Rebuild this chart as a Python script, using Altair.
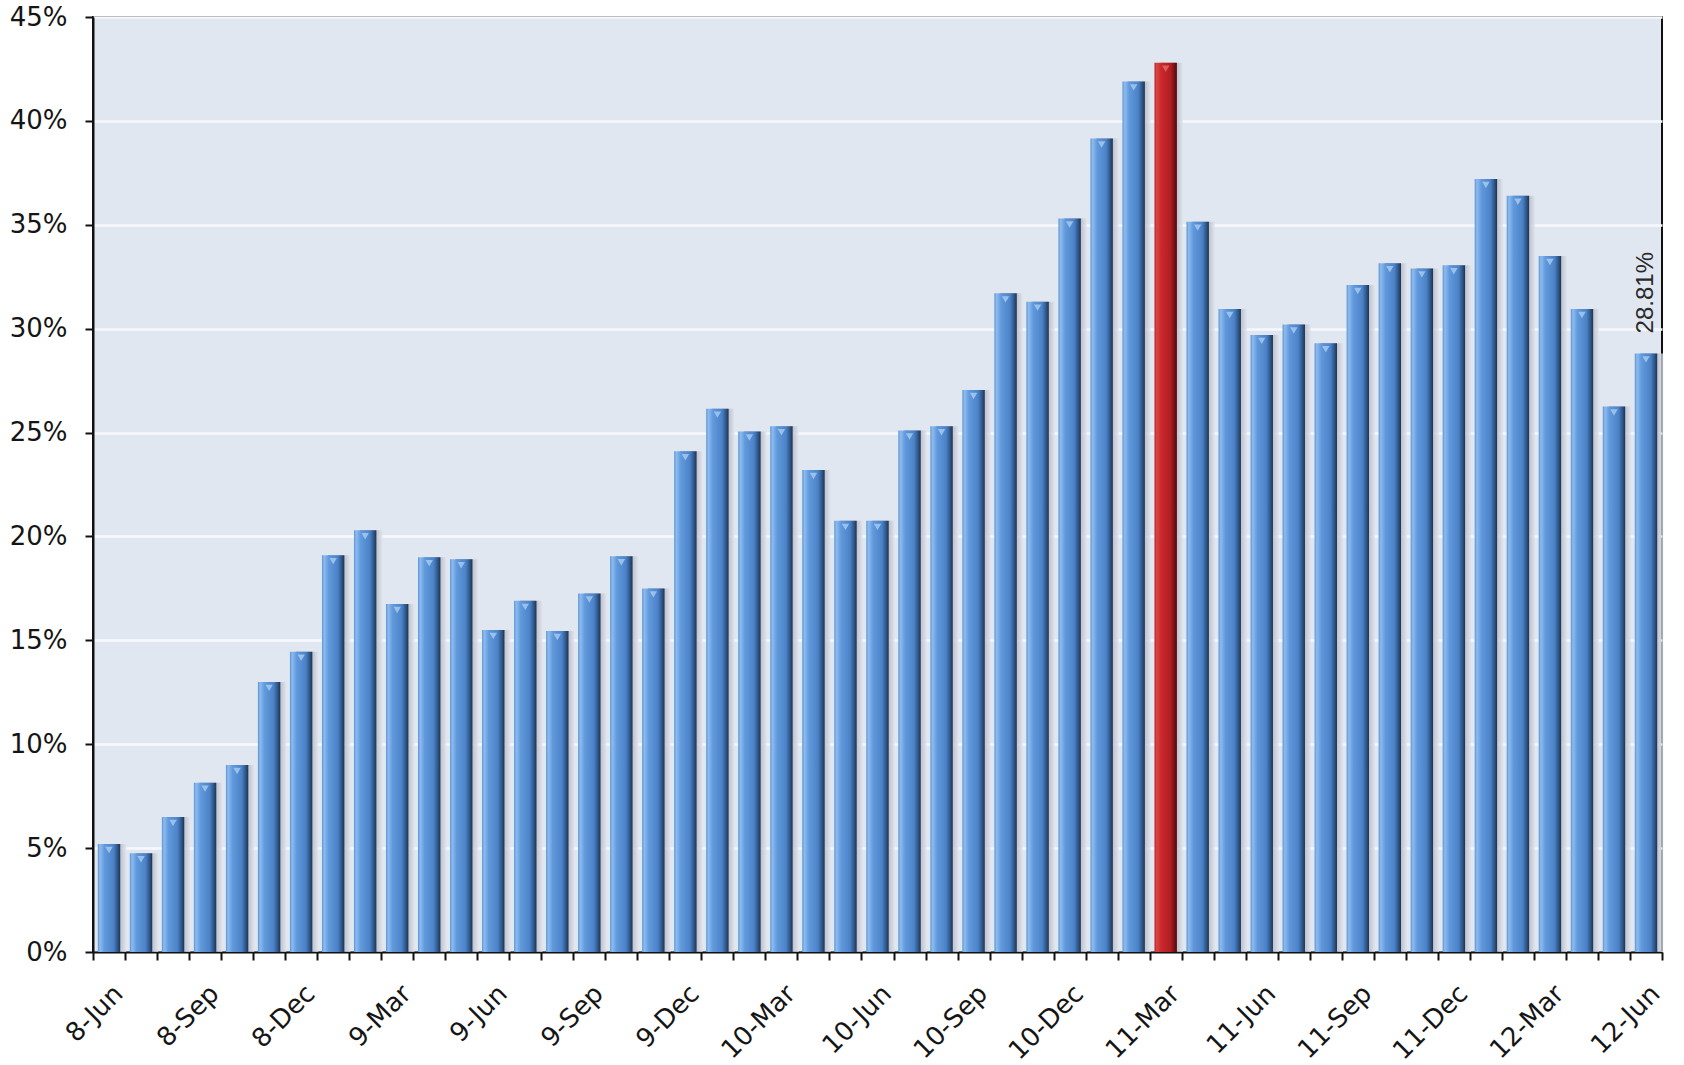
import altair as alt
import pandas as pd

# Monthly observations, June 2008 - June 2012
months = [
    "8-Jun", "8-Jul", "8-Aug", "8-Sep", "8-Oct", "8-Nov", "8-Dec",
    "9-Jan", "9-Feb", "9-Mar", "9-Apr", "9-May", "9-Jun",
    "9-Jul", "9-Aug", "9-Sep", "9-Oct", "9-Nov", "9-Dec",
    "10-Jan", "10-Feb", "10-Mar", "10-Apr", "10-May", "10-Jun",
    "10-Jul", "10-Aug", "10-Sep", "10-Oct", "10-Nov", "10-Dec",
    "11-Jan", "11-Feb", "11-Mar", "11-Apr", "11-May", "11-Jun",
    "11-Jul", "11-Aug", "11-Sep", "11-Oct", "11-Nov", "11-Dec",
    "12-Jan", "12-Feb", "12-Mar", "12-Apr", "12-May", "12-Jun",
]

shares = [
    5.2, 4.75, 6.5, 8.15, 9.0, 13.0, 14.45,
    19.1, 20.3, 16.75, 19.0, 18.9, 15.5,
    16.9, 15.45, 17.25, 19.05, 17.5, 24.1,
    26.15, 25.05, 25.3, 23.2, 20.75, 20.75,
    25.1, 25.3, 27.05, 31.7, 31.3, 35.3,
    39.15, 41.9, 42.8, 35.15, 30.95, 29.7,
    30.2, 29.3, 32.1, 33.15, 32.9, 33.05,
    37.2, 36.4, 33.5, 30.95, 26.25, 28.81,
]

peak_month = "11-Mar"
labelled_month = "12-Jun"
y_ticks = [0, 5, 10, 15, 20, 25, 30, 35, 40, 45]

df = pd.DataFrame({
    "month": months,
    "share": shares,
    "peak": [m == peak_month for m in months],
    "labelled": [m == labelled_month for m in months],
})

FONT = "DejaVu Sans"


def bar_gradient(stops):
    return alt.Gradient(
        gradient="linear",
        stops=[alt.GradientStop(offset=o, color=c) for o, c in stops],
        x1=0, x2=1, y1=0, y2=0,
    )


blue_fill = bar_gradient([
    (0.0, "#5f93d2"), (0.1, "#8cbcef"), (0.3, "#6199dc"),
    (0.7, "#4c83c8"), (0.88, "#2f5688"), (1.0, "#1d3353"),
])
red_fill = bar_gradient([
    (0.0, "#b42226"), (0.1, "#dc4446"), (0.3, "#c8282c"),
    (0.7, "#b21e22"), (0.88, "#7a1216"), (1.0, "#4e0b0d"),
])
shadow_fill = bar_gradient([
    (0.0, "#6d727a"), (0.6, "#9a9ea6"), (1.0, "#dfe5ef"),
])

x_enc = alt.X(
    "month:N",
    sort=months,
    title=None,
    scale=alt.Scale(paddingInner=0, paddingOuter=0),
    axis=alt.Axis(
        tickBand="extent",
        labelAngle=315,
        labelAlign="right",
        labelBaseline="top",
        labelPadding=20,
        labelOverlap=False,
        labelFontSize=26,
        labelExpr="test(/-(Mar|Jun|Sep|Dec)$/, datum.value) ? datum.label : ''",
    ),
)
y_enc = alt.Y(
    "share:Q",
    title=None,
    scale=alt.Scale(domain=[0, 45], nice=False, zero=True),
    axis=alt.Axis(
        values=y_ticks,
        labelExpr="datum.value + '%'",
        grid=True,
        gridColor="#f6f8fc",
        gridWidth=2.5,
        labelPadding=18,
        labelFontSize=26,
    ),
)

base = alt.Chart(df).encode(x=x_enc, y=y_enc)

shadow = base.mark_bar(
    width=alt.RelativeBandSize(0.7), xOffset=6, color=shadow_fill, opacity=0.75
)
blue_bars = base.transform_filter("!datum.peak").mark_bar(
    width=alt.RelativeBandSize(0.7), color=blue_fill
)
red_bar = base.transform_filter("datum.peak").mark_bar(
    width=alt.RelativeBandSize(0.7), color=red_fill
)
# small bevel notch on each bar top
caps = base.mark_point(
    shape="triangle-down", filled=True, size=55, yOffset=6,
    opacity=0.8, strokeWidth=0,
).encode(
    color=alt.condition("datum.peak", alt.value("#e66a6a"), alt.value("#a9cdf2"))
)
value_label = base.transform_filter("datum.labelled").transform_calculate(
    txt="format(datum.share, '.2f') + '%'"
).mark_text(
    angle=270, align="left", baseline="middle", dx=20,
    font="Liberation Sans", fontSize=24, color="#2a2a2a",
).encode(text="txt:N")

chart = alt.layer(shadow, blue_bars, red_bar, caps, value_label).properties(
    width=1569,
    height=935,
    autosize=alt.AutoSizeParams(type="none"),
    padding={"left": 93, "top": 17, "right": 22, "bottom": 113},
    background="white",
).configure_view(
    fill="#e1e7f1", stroke="#111111", strokeWidth=2,
).configure_axis(
    domainColor="#111111", domainWidth=2,
    tickColor="#111111", tickWidth=2, tickSize=8,
    labelFont=FONT, labelColor="#151515",
)

chart.save("out.html", embed_options={"renderer": "svg", "actions": False})
